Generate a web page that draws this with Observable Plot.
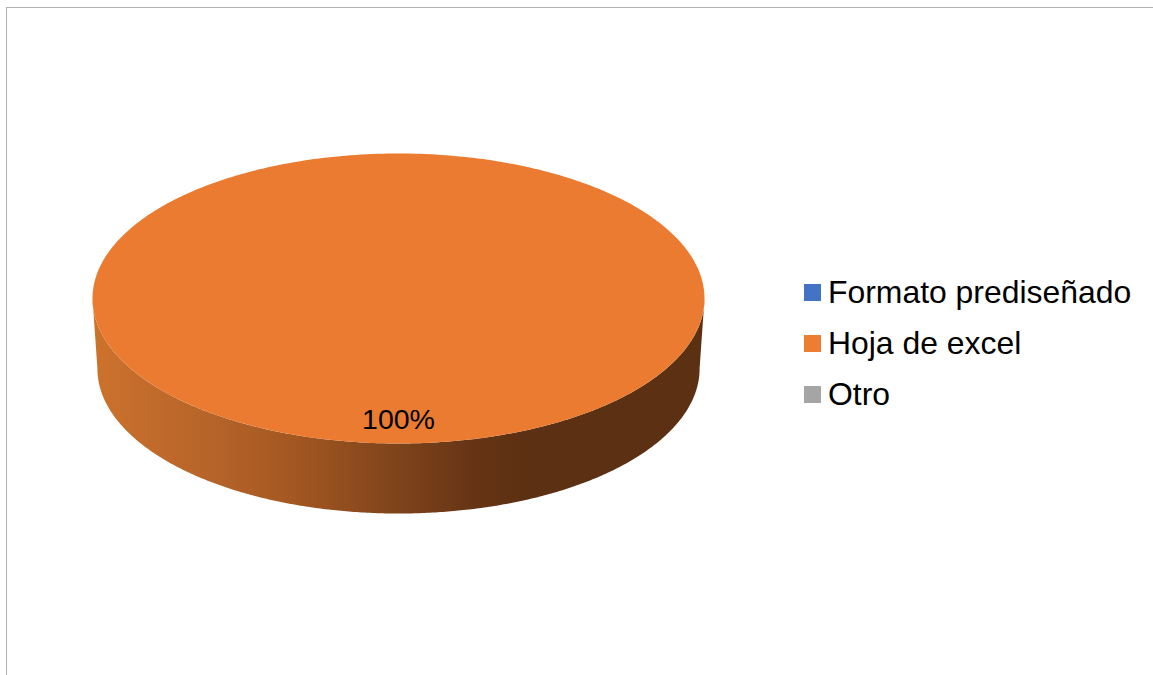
<!DOCTYPE html>
<html lang="es">
<head>
<meta charset="utf-8">
<script src="https://cdn.jsdelivr.net/npm/d3@7"></script>
<script src="https://cdn.jsdelivr.net/npm/@observablehq/plot@0.6"></script>
<style>
  html, body { margin: 0; padding: 0; background: #fff; overflow: hidden; }
  #chart { position: relative; width: 1153px; height: 675px; font-family: "Liberation Sans", Arial, sans-serif; }
  #frame { position: absolute; left: 6px; top: 7px; right: 0; bottom: 0; border-left: 1.5px solid #b0b0b0; border-top: 1.5px solid #b0b0b0; pointer-events: none; }
  #legend { position: absolute; left: 804px; top: 267px; }
  .row { display: flex; align-items: center; height: 51px; white-space: nowrap; font-size: 31.9px; color: #000; }
  .swatch { width: 17px; height: 17px; margin-right: 7px; flex: none; }
</style>
</head>
<body>
<div id="chart"><div id="frame"></div><div id="legend"></div></div>
<script>
const categories = ["Formato prediseñado", "Hoja de excel", "Otro"];
const shares = [0, 100, 0];
const legendColors = ["#4472C4", "#ED7D31", "#A5A5A5"];
const topColors = ["#4472C4", "#EA7B31", "#A5A5A5"];

const rimStops = [
  [0, "#cc722c"], [0.18, "#b8652a"], [0.33, "#a35721"],
  [0.5, "#7e431b"], [0.62, "#673515"], [0.7, "#5c3012"], [1, "#5c3012"]
];
const depth = 0.483;       // rim drop in disc units
const baseScale = 0.984;   // the base ellipse is a little narrower
const labelRadius = 0.84;

const total = d3.sum(shares);
const slices = d3.pie().sort(null)(shares);
const arcPoints = (a0, a1, n = 360, scale = 1, dy = 0) =>
  d3.range(n + 1).map(i => {
    const a = a0 + (a1 - a0) * i / n;
    return {x: scale * Math.sin(a), y: Math.cos(a) - dy};
  });

const faces = slices.filter(s => s.value > 0).map(s => ({
  points: s.endAngle - s.startAngle >= 2 * Math.PI - 1e-9
    ? arcPoints(s.startAngle, s.endAngle)
    : [{x: 0, y: 0}, ...arcPoints(s.startAngle, s.endAngle), {x: 0, y: 0}],
  fill: topColors[s.index]
}));

const rim = [
  ...arcPoints(Math.PI / 2, 3 * Math.PI / 2),
  ...arcPoints(3 * Math.PI / 2, Math.PI / 2, 360, baseScale, depth)
];

const labels = slices.filter(s => s.value > 0).map(s => {
  const mid = (s.startAngle + s.endAngle) / 2;
  return {x: labelRadius * Math.sin(mid), y: labelRadius * Math.cos(mid), text: d3.format(".0%")(s.value / total)};
});

const gradient = () => {
  const svgNS = "http://www.w3.org/2000/svg";
  const g = document.createElementNS(svgNS, "defs");
  const lg = document.createElementNS(svgNS, "linearGradient");
  lg.setAttribute("id", "rimGradient");
  for (const [offset, color] of rimStops) {
    const stop = document.createElementNS(svgNS, "stop");
    stop.setAttribute("offset", offset);
    stop.setAttribute("stop-color", color);
    lg.appendChild(stop);
  }
  g.appendChild(lg);
  return g;
};

const plot = Plot.plot({
  width: 1153,
  height: 675,
  margin: 0,
  style: {background: "transparent", fontFamily: "'Liberation Sans', Arial, sans-serif"},
  x: {domain: [-1, 1], range: [92, 704], axis: null},
  y: {domain: [-1, 1], range: [443, 153], axis: null},
  marks: [
    gradient,
    Plot.line(rim, {x: "x", y: "y", fill: "url(#rimGradient)", stroke: "none", curve: "linear"}),
    ...faces.map(f => Plot.line(f.points, {x: "x", y: "y", fill: f.fill, stroke: "none", curve: "linear"})),
    Plot.text(labels, {x: "x", y: "y", text: "text", fontSize: 28.5, fill: "#000", textAnchor: "middle"})
  ]
});
plot.style.position = "absolute";
plot.style.left = "0";
plot.style.top = "0";
const chart = document.getElementById("chart");
chart.insertBefore(plot, chart.firstChild);

const legend = document.getElementById("legend");
categories.forEach((name, i) => {
  const row = document.createElement("div");
  row.className = "row";
  const sw = document.createElement("span");
  sw.className = "swatch";
  sw.style.background = legendColors[i];
  const tx = document.createElement("span");
  tx.textContent = name;
  row.append(sw, tx);
  legend.appendChild(row);
});
</script>
</body>
</html>
